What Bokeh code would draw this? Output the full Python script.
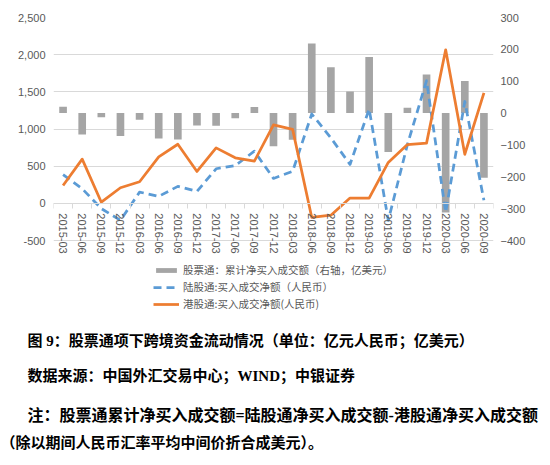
from bokeh.plotting import figure
from bokeh.models import (Range1d, LinearAxis, FixedTicker, NumeralTickFormatter,
                          Legend, LegendItem, Label, ColumnDataSource)
from bokeh.layouts import column
from bokeh.embed import file_html
from bokeh.resources import INLINE

# ---------------- data ----------------
dates = ["2015-03", "2015-06", "2015-09", "2015-12", "2016-03", "2016-06", "2016-09",
         "2016-12", "2017-03", "2017-06", "2017-09", "2017-12", "2018-03", "2018-06",
         "2018-09", "2018-12", "2019-03", "2019-06", "2019-09", "2019-12", "2020-03",
         "2020-06", "2020-09"]
# 股票通：累计净买入成交额（右轴，亿美元）
stock_connect_usd = [20, -67, -13, -72, -21, -80, -83, -39, -40, -16, 19, -104, -84,
                     218, 144, 68, 176, -122, 17, 121, -312, 101, -203]
# 陆股通:买入成交净额（人民币）
northbound_rmb = [385, 197, -71, -228, 151, 94, 228, 161, 465, 509, 701, 335, 430,
                  1202, 880, 523, 1269, -230, 790, 1650, -120, 1370, 40]
# 港股通:买入成交净额(人民币)
southbound_rmb = [240, 595, 15, 210, 290, 625, 795, 429, 746, 612, 567, 1055, 995,
                  -190, -160, 71, 71, 550, 790, 810, 2065, 660, 1485]

left_ticks = [-500, 0, 500, 1000, 1500, 2000, 2500]
right_ticks = [-400, -300, -200, -100, 0, 100, 200, 300]

legend_labels = ["股票通：累计净买入成交额（右轴，亿美元）",
                 "陆股通:买入成交净额（人民币）",
                 "港股通:买入成交净额(人民币)"]

caption_lines = ["图 9：股票通项下跨境资金流动情况（单位：亿元人民币；亿美元）",
                 "数据来源：中国外汇交易中心；WIND；中银证券",
                 "注：股票通累计净买入成交额=陆股通净买入成交额-港股通净买入成交额",
                 "（除以期间人民币汇率平均中间价折合成美元）。"]

# ---------------- layout constants (pixels) ----------------
BORDER_L, BORDER_R = 53, 39
MAIN_W = 532
AXIS_PX = 223      # height of the -500..2500 band
BELOW_PX = 78      # room under it for category labels and legend
FRAME_PX = AXIS_PX + BELOW_PX

left_span = left_ticks[-1] - left_ticks[0]
right_span = right_ticks[-1] - right_ticks[0]
left_lo = left_ticks[0] - left_span * BELOW_PX / AXIS_PX
right_lo = right_ticks[0] - right_span * BELOW_PX / AXIS_PX

idx = list(range(len(dates)))
src = ColumnDataSource(dict(x=idx, bars=stock_connect_usd,
                            north=northbound_rmb, south=southbound_rmb))

AX_COLOR = "#595959"
GRID = "#d9d9d9"
FONT = "Liberation Sans"

p = figure(width=MAIN_W, height=17 + FRAME_PX + 3, output_backend="svg",
           toolbar_location=None,
           x_range=Range1d(-0.5, len(dates) - 0.5),
           y_range=Range1d(left_lo, left_ticks[-1]),
           min_border_left=BORDER_L, min_border_right=BORDER_R, min_border_top=17,
           min_border_bottom=3)
p.outline_line_color = None
p.extra_y_ranges = {"right": Range1d(right_lo, right_ticks[-1])}

# x axis drawn at value 0
xa = p.xaxis[0]
xa.ticker = FixedTicker(ticks=idx, minor_ticks=[i - 0.5 for i in range(len(dates) + 1)])
xa.major_label_overrides = {i: d for i, d in enumerate(dates)}
xa.fixed_location = 0
xa.major_tick_line_color = None
xa.major_tick_out = 0
xa.major_tick_in = 0
xa.minor_tick_line_color = GRID
xa.minor_tick_out = 5
xa.minor_tick_in = 0
xa.axis_line_color = GRID
xa.major_label_orientation = "vertical"
xa.major_label_standoff = 5
xa.major_label_text_color = AX_COLOR
xa.major_label_text_font = FONT
xa.major_label_text_font_size = "11px"

# left axis
ya = p.yaxis[0]
ya.ticker = FixedTicker(ticks=left_ticks)
ya.formatter = NumeralTickFormatter(format="0,0")
ya.axis_line_color = None
ya.major_tick_line_color = None
ya.minor_tick_line_color = None
ya.major_tick_out = 0
ya.major_label_standoff = 8
ya.major_label_text_color = AX_COLOR
ya.major_label_text_font = FONT
ya.major_label_text_font_size = "11px"

# right axis
ra = LinearAxis(y_range_name="right", ticker=FixedTicker(ticks=right_ticks))
ra.axis_line_color = None
ra.major_tick_line_color = None
ra.minor_tick_line_color = None
ra.major_tick_out = 0
ra.major_label_standoff = 7
ra.major_label_text_color = AX_COLOR
ra.major_label_text_font = FONT
ra.major_label_text_font_size = "11px"
p.add_layout(ra, "right")

p.xgrid.visible = False
p.ygrid.ticker = FixedTicker(ticks=left_ticks)
p.ygrid.grid_line_color = GRID

# glyphs
r_bar = p.vbar(x="x", top="bars", bottom=0, width=0.4, source=src,
               y_range_name="right", fill_color="#A5A5A5", line_color=None)
r_north = p.line("x", "north", source=src, line_color="#5B9BD5", line_width=2.75,
                 line_dash="8 5", line_join="round")
r_south = p.line("x", "south", source=src, line_color="#ED7D31", line_width=2.75,
                 line_join="round")

legend = Legend(items=[LegendItem(label=legend_labels[0], renderers=[r_bar]),
                       LegendItem(label=legend_labels[1], renderers=[r_north]),
                       LegendItem(label=legend_labels[2], renderers=[r_south])],
                location=(100, 6), orientation="vertical", padding=0, spacing=0,
                margin=0, glyph_width=26, glyph_height=6, label_height=17,
                label_standoff=4, border_line_color=None, background_fill_alpha=0,
                label_text_font_size="10.5px", label_text_color=AX_COLOR,
                label_text_font="Noto Sans CJK SC")
p.add_layout(legend)

# ---------------- caption ----------------
CAP_W, CAP_H = 550, 144
cap = figure(width=CAP_W, height=CAP_H, output_backend="svg", toolbar_location=None,
             x_range=Range1d(0, CAP_W), y_range=Range1d(0, CAP_H),
             x_axis_type=None, y_axis_type=None,
             min_border_left=0, min_border_right=0,
             min_border_top=0, min_border_bottom=0)
cap.grid.visible = False
cap.outline_line_color = None

# keep the two figures' frames independent
if "frame_align" in type(cap).properties():
    cap.frame_align = False
    p.frame_align = False

cap_x = [27, 27, 27, 0]           # page x of each line's start
cap_y = [125, 90, 50, 23]         # height above the caption's bottom edge
cap_size = ["15px", "15px", "16px", "15px"]
for cx, cy, fs, txt in zip(cap_x, cap_y, cap_size, caption_lines):
    cap.add_layout(Label(x=cx, y=cy, x_units="screen", y_units="screen",
                         text=txt, text_font="'Liberation Serif', 'Noto Sans CJK SC'",
                         text_font_size=fs, text_font_style="bold",
                         text_baseline="middle", text_align="left",
                         text_color="#000000"))

layout = column(p, cap, spacing=0)
open("out.html", "w").write(file_html(layout, INLINE))
